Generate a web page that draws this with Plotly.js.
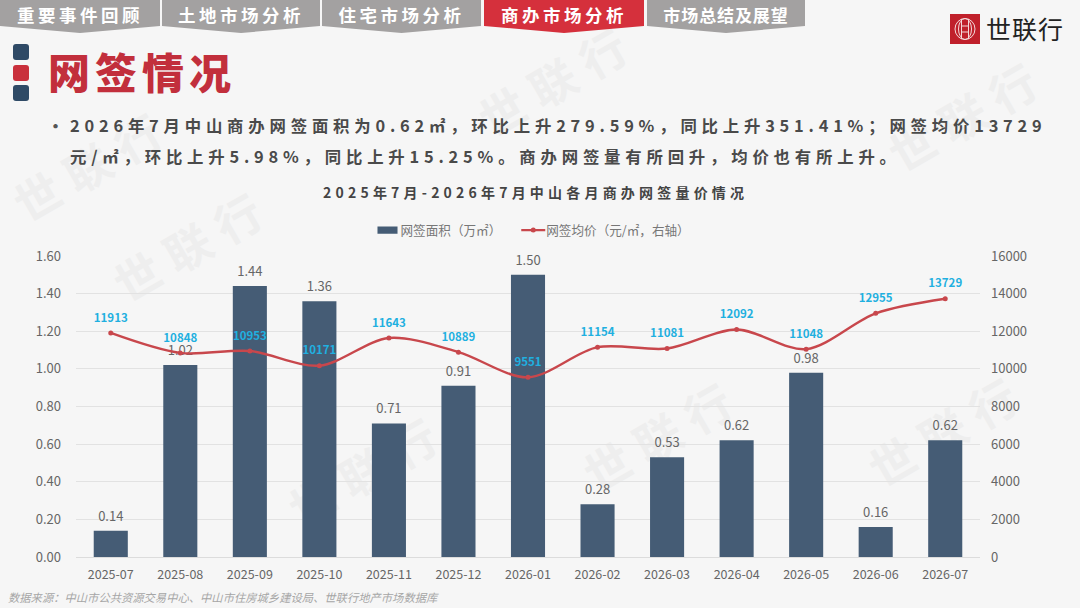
<!DOCTYPE html>
<html><head><meta charset="utf-8">
<script src="https://cdn.plot.ly/plotly-3.0.1.min.js"></script>
<style>
html,body{margin:0;padding:0;background:#f6f6f6;}
#page{position:relative;width:1080px;height:608px;overflow:hidden;background:#f6f6f6;font-family:"Noto Sans CJK SC",sans-serif;}
#chart{position:absolute;left:0;top:0;width:1080px;height:608px;}
#chart .gtitle{letter-spacing:4.2px;}
#chart .legend .traces:first-child path{transform:translate(27px,0) scale(1.67,.6);}
#chart .legendlines path{transform:translateX(11px) scaleX(.8);}
#chart .legendsymbols path{transform:translate(27px,0);}
#chart .bartext{translate:0 -3px;}
.tab{position:absolute;top:0;height:33px;background:#a3a1a1;color:#fff;font-weight:700;font-size:17.5px;letter-spacing:3.5px;line-height:30px;text-align:center;clip-path:polygon(0 0,100% 0,100% 26px,50% 33px,0 26px);white-space:nowrap;}
.tab.on{background:#d5303c;}
.sq{position:absolute;left:13px;width:16px;height:16px;border-radius:3px;background:#2f4a66;}
.wm{position:absolute;color:#eeeeee;font-weight:700;font-size:46px;transform:rotate(-30deg);white-space:nowrap;letter-spacing:12px;line-height:56px;}
#h1{position:absolute;left:48px;top:43px;font-size:42px;font-weight:900;color:#c22f3c;letter-spacing:5px;line-height:56px;white-space:nowrap;}
#para{position:absolute;left:70px;top:110px;width:1000px;font-size:16.4px;font-weight:700;color:#4a4a4a;letter-spacing:4.8px;line-height:31px;white-space:nowrap;}
#dot{position:absolute;left:47px;top:110px;font-size:17px;font-weight:700;color:#555;line-height:31px;}
#src{position:absolute;left:8px;top:589px;font-size:11.3px;font-style:italic;color:#a6a6a6;white-space:nowrap;}
#logo{position:absolute;left:950px;top:14px;width:30px;height:30px;}
#logotxt{position:absolute;left:986px;top:14px;font-size:25px;line-height:28px;color:#222;letter-spacing:1px;white-space:nowrap;}
</style></head><body>
<div id="page">
<div class="wm" style="left:105px;top:215px">世联行</div>
<div class="wm" style="left:470px;top:50px">世联行</div>
<div class="wm" style="left:880px;top:85px">世联行</div>
<div class="wm" style="left:575px;top:405px">世联行</div>
<div class="wm" style="left:5px;top:135px">世联行</div>
<div class="wm" style="left:280px;top:440px">世联行</div>
<div class="wm" style="left:860px;top:400px">世联行</div>
<div id="chart"></div>
<div class="tab" style="left:0;width:160px;padding-left:0">重要事件回顾</div>
<div class="tab" style="left:162px;width:158px">土地市场分析</div>
<div class="tab" style="left:322px;width:159px">住宅市场分析</div>
<div class="tab on" style="left:484px;width:160px">商办市场分析</div>
<div class="tab" style="left:647px;width:158px;font-size:17px;letter-spacing:.9px">市场总结及展望</div>
<div class="sq" style="top:44px"></div><div class="sq" style="top:65px;background:#c9303c"></div><div class="sq" style="top:85px"></div>
<div id="h1">网签情况</div>
<div id="dot">•</div>
<div id="para">2026年7月中山商办网签面积为0.62㎡，环比上升279.59%，同比上升351.41%；网签均价13729<br>元/㎡，环比上升5.98%，同比上升15.25%。商办网签量有所回升，均价也有所上升。</div>
<div id="src">数据来源：中山市公共资源交易中心、中山市住房城乡建设局、世联行地产市场数据库</div>
<svg id="logo" viewBox="0 0 30 30"><rect width="30" height="30" fill="#c0202b"/><g fill="none" stroke="#f3d9da" stroke-width="1"><ellipse cx="15" cy="15" rx="10" ry="10.5"/><ellipse cx="15" cy="15" rx="6.5" ry="10.5"/><path d="M11.5 5v20M18.5 5v20M11.5 12h7M11.5 18h7"/></g></svg>
<div id="logotxt">世联行</div>
</div>
<script>
const months=["2025-07","2025-08","2025-09","2025-10","2025-11","2025-12","2026-01","2026-02","2026-03","2026-04","2026-05","2026-06","2026-07"];
const areaValues=[0.14,1.02,1.44,1.36,0.71,0.91,1.50,0.28,0.53,0.62,0.98,0.16,0.62];
const priceValues=[11913,10848,10953,10171,11643,10889,9551,11154,11081,12092,11048,12955,13729];
const leftTicks=[0,0.2,0.4,0.6,0.8,1.0,1.2,1.4,1.6];
const rightTicks=[0,2000,4000,6000,8000,10000,12000,14000,16000];
const areaName="网签面积（万㎡）";
const priceName="网签均价（元/㎡，右轴）";
const chartTitle="2025年7月-2026年7月中山各月商办网签量价情况";
const fontCn='"Noto Sans CJK SC",sans-serif';
Plotly.newPlot('chart',[
 {type:'bar',name:areaName,x:months,y:areaValues,marker:{color:'#455c75'},
  text:areaValues.map(v=>v.toFixed(2)),textposition:'outside',cliponaxis:false,
  textfont:{family:fontCn,size:13,color:'#666'}},
 {type:'scatter',mode:'lines+markers',name:priceName,x:months,y:priceValues,yaxis:'y2',
  line:{color:'#c8474c',width:2.4,shape:'spline',smoothing:0.9},marker:{color:'#c8474c',size:5}},
 {type:'scatter',mode:'markers+text',showlegend:false,x:months,y:priceValues,yaxis:'y2',
  marker:{size:12,color:'rgba(0,0,0,0)'},
  text:priceValues.map(String),textposition:'top center',cliponaxis:false,
  textfont:{family:fontCn,size:11.5,color:'#1fb0e0',weight:700}}
],{
 width:1080,height:608,paper_bgcolor:'rgba(0,0,0,0)',plot_bgcolor:'rgba(0,0,0,0)',
 margin:{l:76,r:100,t:256,b:51,pad:0,autoexpand:false},bargap:0.51,showlegend:true,
 title:{text:chartTitle,font:{family:fontCn,size:14,color:'#444',weight:700},x:0.496,xanchor:'center',y:0.682,yanchor:'middle'},
 font:{family:fontCn,color:'#666',size:12},
 legend:{orientation:'h',x:0.5,xanchor:'center',y:1.085,yanchor:'middle',font:{family:fontCn,size:12.6,color:'#777'},traceorder:'normal',bgcolor:'rgba(0,0,0,0)'},
 xaxis:{type:'category',range:[-0.5,12.5],tickmode:'array',tickvals:months,ticktext:months,showgrid:false,showline:true,linecolor:'#dcdcdc',linewidth:1,ticks:'',ticklabelstandoff:6,tickfont:{size:12.5,color:'#666',family:fontCn},fixedrange:true},
 yaxis:{range:[0,1.6],tickmode:'array',tickvals:leftTicks,ticktext:leftTicks.map(v=>v.toFixed(2)),gridcolor:'#e2e2e2',gridwidth:1,zeroline:false,showline:false,tickfont:{size:13,color:'#666',family:fontCn},ticks:'',ticklabelstandoff:14},
 yaxis2:{range:[0,16000],overlaying:'y',side:'right',tickmode:'array',tickvals:rightTicks,ticktext:rightTicks.map(String),showgrid:false,zeroline:false,showline:false,tickfont:{size:13,color:'#666',family:fontCn},ticks:'',ticklabelstandoff:10}
},{displayModeBar:false,staticPlot:true});
</script>
</body></html>
